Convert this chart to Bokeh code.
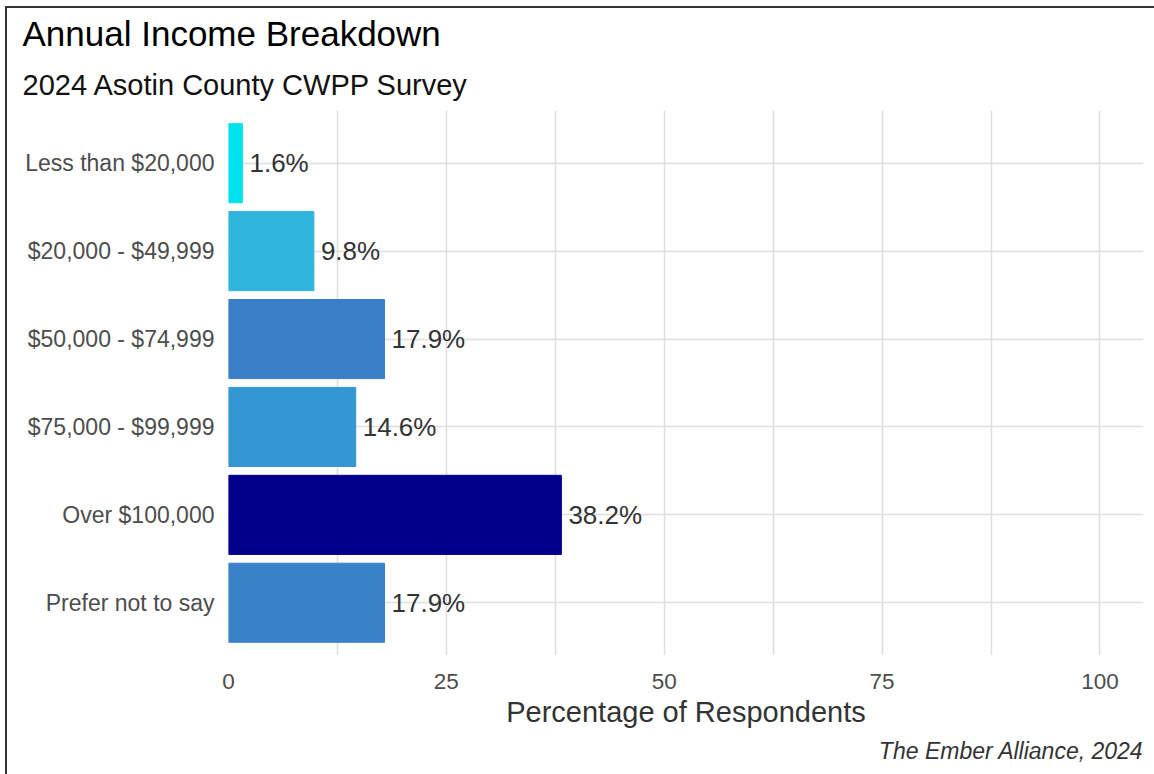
from bokeh.plotting import figure
from bokeh.models import ColumnDataSource, FactorRange, Range1d, FixedTicker, Title
from bokeh.core.properties import value
from bokeh.embed import file_html
from bokeh.resources import INLINE

# ---- data ----
categories = ["Less than $20,000", "$20,000 - $49,999", "$50,000 - $74,999",
              "$75,000 - $99,999", "Over $100,000", "Prefer not to say"]
percentages = [1.6, 9.8, 17.9, 14.6, 38.2, 17.9]
bar_colors = ["#00E3EC", "#30B5DD", "#3A7EC8", "#3597D2", "#00008B", "#3A82C8"]
x_ticks = [0, 25, 50, 75, 100]
x_minor = [12.5, 37.5, 62.5, 87.5]

FONT = "Liberation Sans"

labels = [f"{v:.1f}%" for v in percentages]
src = ColumnDataSource(dict(cat=categories, pct=percentages, color=bar_colors, label=labels))

p = figure(width=1154, height=774, output_backend="svg", toolbar_location=None,
           y_range=FactorRange(factors=list(reversed(categories)),
                               range_padding=0.1, range_padding_units="absolute"),
           x_range=Range1d(0, 105),
           min_border_left=228, min_border_right=11, min_border_top=110, min_border_bottom=119)
p.styles = {"background-color": "white",
            "box-shadow": "inset 5px 6px 0 0 #ffffff, inset 7px 8px 0 0 #333333"}
p.outline_line_color = None
p.background_fill_color = "white"
p.border_fill_color = None

p.hbar(y="cat", right="pct", left=0, height=0.9, color="color", source=src)
p.text(x="pct", y="cat", text="label", source=src, x_offset=7,
       text_baseline="middle", text_align="left",
       text_font=value(FONT), text_font_size="26px", text_color="#333333")

# grids
p.xaxis.ticker = FixedTicker(ticks=x_ticks, minor_ticks=x_minor)
p.xgrid.grid_line_color = "#DEDEDE"
p.xgrid.grid_line_width = 1.5
p.xgrid.minor_grid_line_color = "#DEDEDE"
p.xgrid.minor_grid_line_width = 1.5
p.ygrid.grid_line_color = "#DEDEDE"
p.ygrid.grid_line_width = 1.5

# axes
for ax in (p.xaxis[0], p.yaxis[0]):
    ax.axis_line_color = None
    ax.major_tick_line_color = None
    ax.minor_tick_line_color = None
    ax.major_tick_out = 0
    ax.minor_tick_out = 0
    ax.major_label_text_font = FONT
    ax.major_label_text_color = "#4D4D4D"

p.yaxis.major_label_text_font_size = "23px"
p.yaxis.major_label_standoff = 14
p.xaxis.major_label_text_font_size = "22.5px"
p.xaxis.major_label_standoff = 18
p.xaxis.axis_label = "Percentage of Respondents"
p.xaxis.axis_label_text_font = FONT
p.xaxis.axis_label_text_font_size = "29px"
p.xaxis.axis_label_text_font_style = "normal"
p.xaxis.axis_label_text_color = "#333333"
p.xaxis.axis_label_standoff = 4

# titles
p.title.visible = False
sub = Title(text="2024 Asotin County CWPP Survey", text_font=FONT, text_font_size="29px",
            text_font_style="normal", text_color="#111111", align="left", offset=-206,
            standoff=19)
main = Title(text="Annual Income Breakdown", text_font=FONT, text_font_size="35px",
             text_font_style="normal", text_color="#000000", align="left", offset=-206)
p.add_layout(sub, "above")
p.add_layout(main, "above")
cap = Title(text="The Ember Alliance, 2024", text_font=FONT, text_font_size="23px",
            text_font_style="italic", text_color="#333333", align="right", offset=0)
p.add_layout(cap, "below")

open("out.html", "w").write(file_html(p, INLINE))
